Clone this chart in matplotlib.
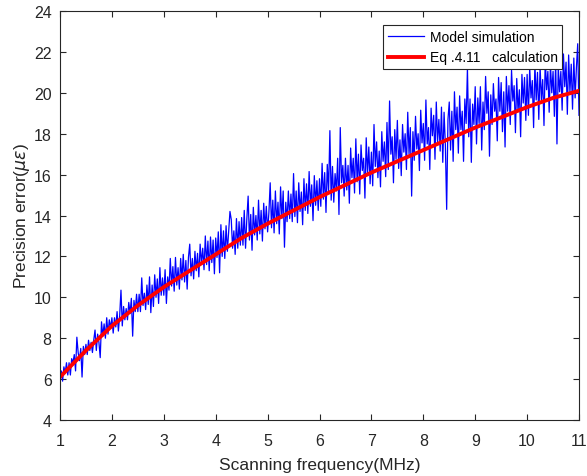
import numpy as np
import matplotlib
matplotlib.use("Agg")
import matplotlib.pyplot as plt

plt.rcParams['font.family'] = ['Liberation Sans', 'DejaVu Sans']

# Red curve (Eq.4.11 calculation), sampled every 0.5 MHz
eq_x = [1.0, 1.5, 2.0, 2.5, 3.0, 3.5, 4.0, 4.5, 5.0, 5.5, 6.0,
        6.5, 7.0, 7.5, 8.0, 8.5, 9.0, 9.5, 10.0, 10.5, 11.0]
eq_y = [6.1, 7.4, 8.6, 9.6, 10.5, 11.3, 12.1, 12.9, 13.6, 14.25, 14.9,
        15.5, 16.1, 16.65, 17.2, 17.75, 18.3, 18.8, 19.3, 19.75, 20.1]

# Blue curve (model simulation), read every 0.025 MHz from 1 to 11
sim_y = [
    5.9, 6.4, 5.9, 6.6, 6.3, 6.8, 6.2, 6.8, 6.2, 7.0, 6.8, 7.2, 6.4, 8.05, 7.3, 6.9, 7.5, 6.1, 7.6, 7.2,
    7.7, 7.2, 7.9, 7.4, 7.8, 7.3, 7.9, 8.4, 7.4, 8.2, 7.8, 7.05, 8.8, 8.1, 8.7, 8.0, 9.0, 8.2, 8.9, 8.5,
    9.0, 8.25, 9.0, 8.55, 9.3, 8.35, 9.1, 10.35, 8.6, 9.55, 8.9, 9.45, 8.9, 9.75, 9.2, 9.95, 8.1, 9.85, 9.3, 10.15,
    9.3, 10.15, 9.3, 10.95, 9.6, 10.2, 9.4, 10.6, 9.65, 11.0, 9.25, 10.6, 9.55, 11.1, 10.0, 10.9, 9.7, 11.45, 10.1, 10.95,
    10.1, 11.35, 9.7, 11.0, 10.35, 11.9, 10.55, 11.5, 10.3, 11.95, 10.6, 11.45, 10.4, 11.9, 10.85, 12.1, 10.75, 11.8, 10.4, 11.95,
    12.6, 11.05, 11.9, 10.9, 12.25, 11.3, 12.15, 11.0, 12.6, 11.65, 12.4, 11.35, 13.0, 11.6, 12.75, 11.3, 12.95, 11.7, 12.8, 11.15,
    12.9, 11.95, 13.2, 11.2, 13.55, 12.0, 13.25, 11.9, 13.5, 12.25, 13.2, 14.2, 13.8, 12.4, 13.25, 12.1, 13.85, 12.4, 13.7, 12.55,
    13.9, 12.55, 14.25, 12.4, 13.85, 14.95, 12.8, 14.05, 12.3, 14.4, 13.05, 14.0, 12.8, 14.75, 13.1, 14.25, 12.75, 14.6, 13.35, 14.45,
    13.2, 14.15, 15.6, 13.4, 14.75, 13.15, 15.2, 13.6, 14.65, 13.1, 15.4, 13.85, 15.2, 12.45, 14.65, 13.7, 15.2, 13.85, 15.05, 13.7,
    16.05, 13.95, 15.2, 13.65, 15.6, 14.2, 15.15, 13.55, 15.8, 14.25, 15.55, 14.1, 16.15, 14.45, 15.5, 13.75, 15.95, 14.5, 15.7, 14.25,
    15.8, 14.45, 16.55, 14.8, 16.1, 14.15, 16.5, 15.2, 18.15, 14.75, 16.4, 14.65, 16.05, 15.2, 16.8, 14.05, 18.3, 15.6, 16.45, 14.95,
    16.8, 15.25, 16.45, 14.6, 17.3, 15.85, 16.8, 15.1, 17.75, 15.65, 17.0, 15.05, 17.45, 16.2, 16.8, 14.85, 17.8, 16.0, 17.35, 15.55,
    17.1, 15.45, 18.45, 16.4, 17.6, 15.85, 17.15, 15.4, 18.1, 16.65, 17.6, 15.9, 18.55, 16.25, 19.6, 17.0, 17.85, 15.6, 18.2, 16.75,
    18.65, 16.3, 17.7, 15.95, 18.45, 17.1, 18.0, 16.25, 19.05, 17.0, 18.3, 14.95, 18.1, 16.7, 18.85, 17.25, 18.0, 16.2, 19.15, 17.55,
    18.5, 16.7, 19.65, 17.5, 18.3, 16.25, 19.25, 17.9, 18.9, 16.75, 19.55, 17.6, 18.7, 17.15, 19.3, 16.6, 19.05, 17.45, 14.3, 18.7,
    19.55, 17.2, 19.1, 16.65, 20.05, 18.2, 19.3, 17.05, 19.85, 18.2, 19.1, 16.65, 19.7, 18.5, 21.2, 17.85, 19.7, 16.6, 19.45, 18.45,
    20.3, 17.5, 19.75, 18.5, 20.3, 17.2, 19.55, 18.2, 20.8, 19.0, 20.05, 16.9, 19.9, 18.45, 20.45, 19.1, 19.7, 17.65, 20.75, 19.1,
    20.5, 18.1, 20.05, 17.35, 20.8, 19.1, 20.35, 18.45, 21.1, 19.6, 20.35, 18.05, 20.7, 19.1, 20.15, 17.85, 20.9, 19.5, 20.75, 18.65,
    20.9, 18.9, 21.25, 19.75, 20.6, 18.3, 21.45, 19.65, 21.0, 18.7, 21.3, 19.65, 20.65, 18.4, 21.7, 20.15, 21.05, 19.05, 21.4, 20.0,
    21.05, 18.85, 21.6, 17.5, 21.3, 20.05, 21.05, 19.15, 21.9, 20.3, 21.5, 18.95, 21.85, 20.05, 21.4, 19.2, 21.7, 19.75, 21.25, 22.4,
    18.9,
]
sim_x = np.linspace(1.0, 11.0, len(sim_y))

x_ticks = [1, 2, 3, 4, 5, 6, 7, 8, 9, 10, 11]
y_ticks = [4, 6, 8, 10, 12, 14, 16, 18, 20, 22, 24]

fig = plt.figure(figsize=(5.87, 4.77), dpi=100)
ax = fig.add_axes([0.1022, 0.1174, 0.8842, 0.8574])

ax.plot(sim_x, sim_y, color='#0000ff', lw=0.9, label='Model simulation')
ax.plot(eq_x, eq_y, color='#ff0000', lw=2.8, label='Eq .4.11   calculation')

ax.set_xlim(1, 11)
ax.set_ylim(4, 24)
ax.set_xticks(x_ticks)
ax.set_yticks(y_ticks)

grey = '#262626'
for s in ax.spines.values():
    s.set_color(grey)
    s.set_linewidth(0.8)
ax.tick_params(direction='in', top=True, right=True, length=4, width=0.8,
               colors=grey, labelsize=11.5)
ax.tick_params(axis='x', pad=9)
ax.tick_params(axis='y', pad=6)
for lbl in ax.get_xticklabels() + ax.get_yticklabels():
    lbl.set_color(grey)

ax.set_xlabel('Scanning frequency(MHz)', fontsize=12.5, color=grey, labelpad=7)
ax.set_ylabel(r'Precision error($\mu\epsilon$)', fontsize=12.5, color=grey, labelpad=1)

leg = ax.legend(loc='upper right', bbox_to_anchor=(0.968, 0.965), fontsize=10,
                frameon=True, fancybox=False, edgecolor=grey, framealpha=1,
                handlelength=2.6, borderpad=0.35, labelspacing=0.45, handletextpad=0.4,
                borderaxespad=0.0)
leg.get_frame().set_linewidth(0.8)

fig.savefig('out.png', dpi=100)
